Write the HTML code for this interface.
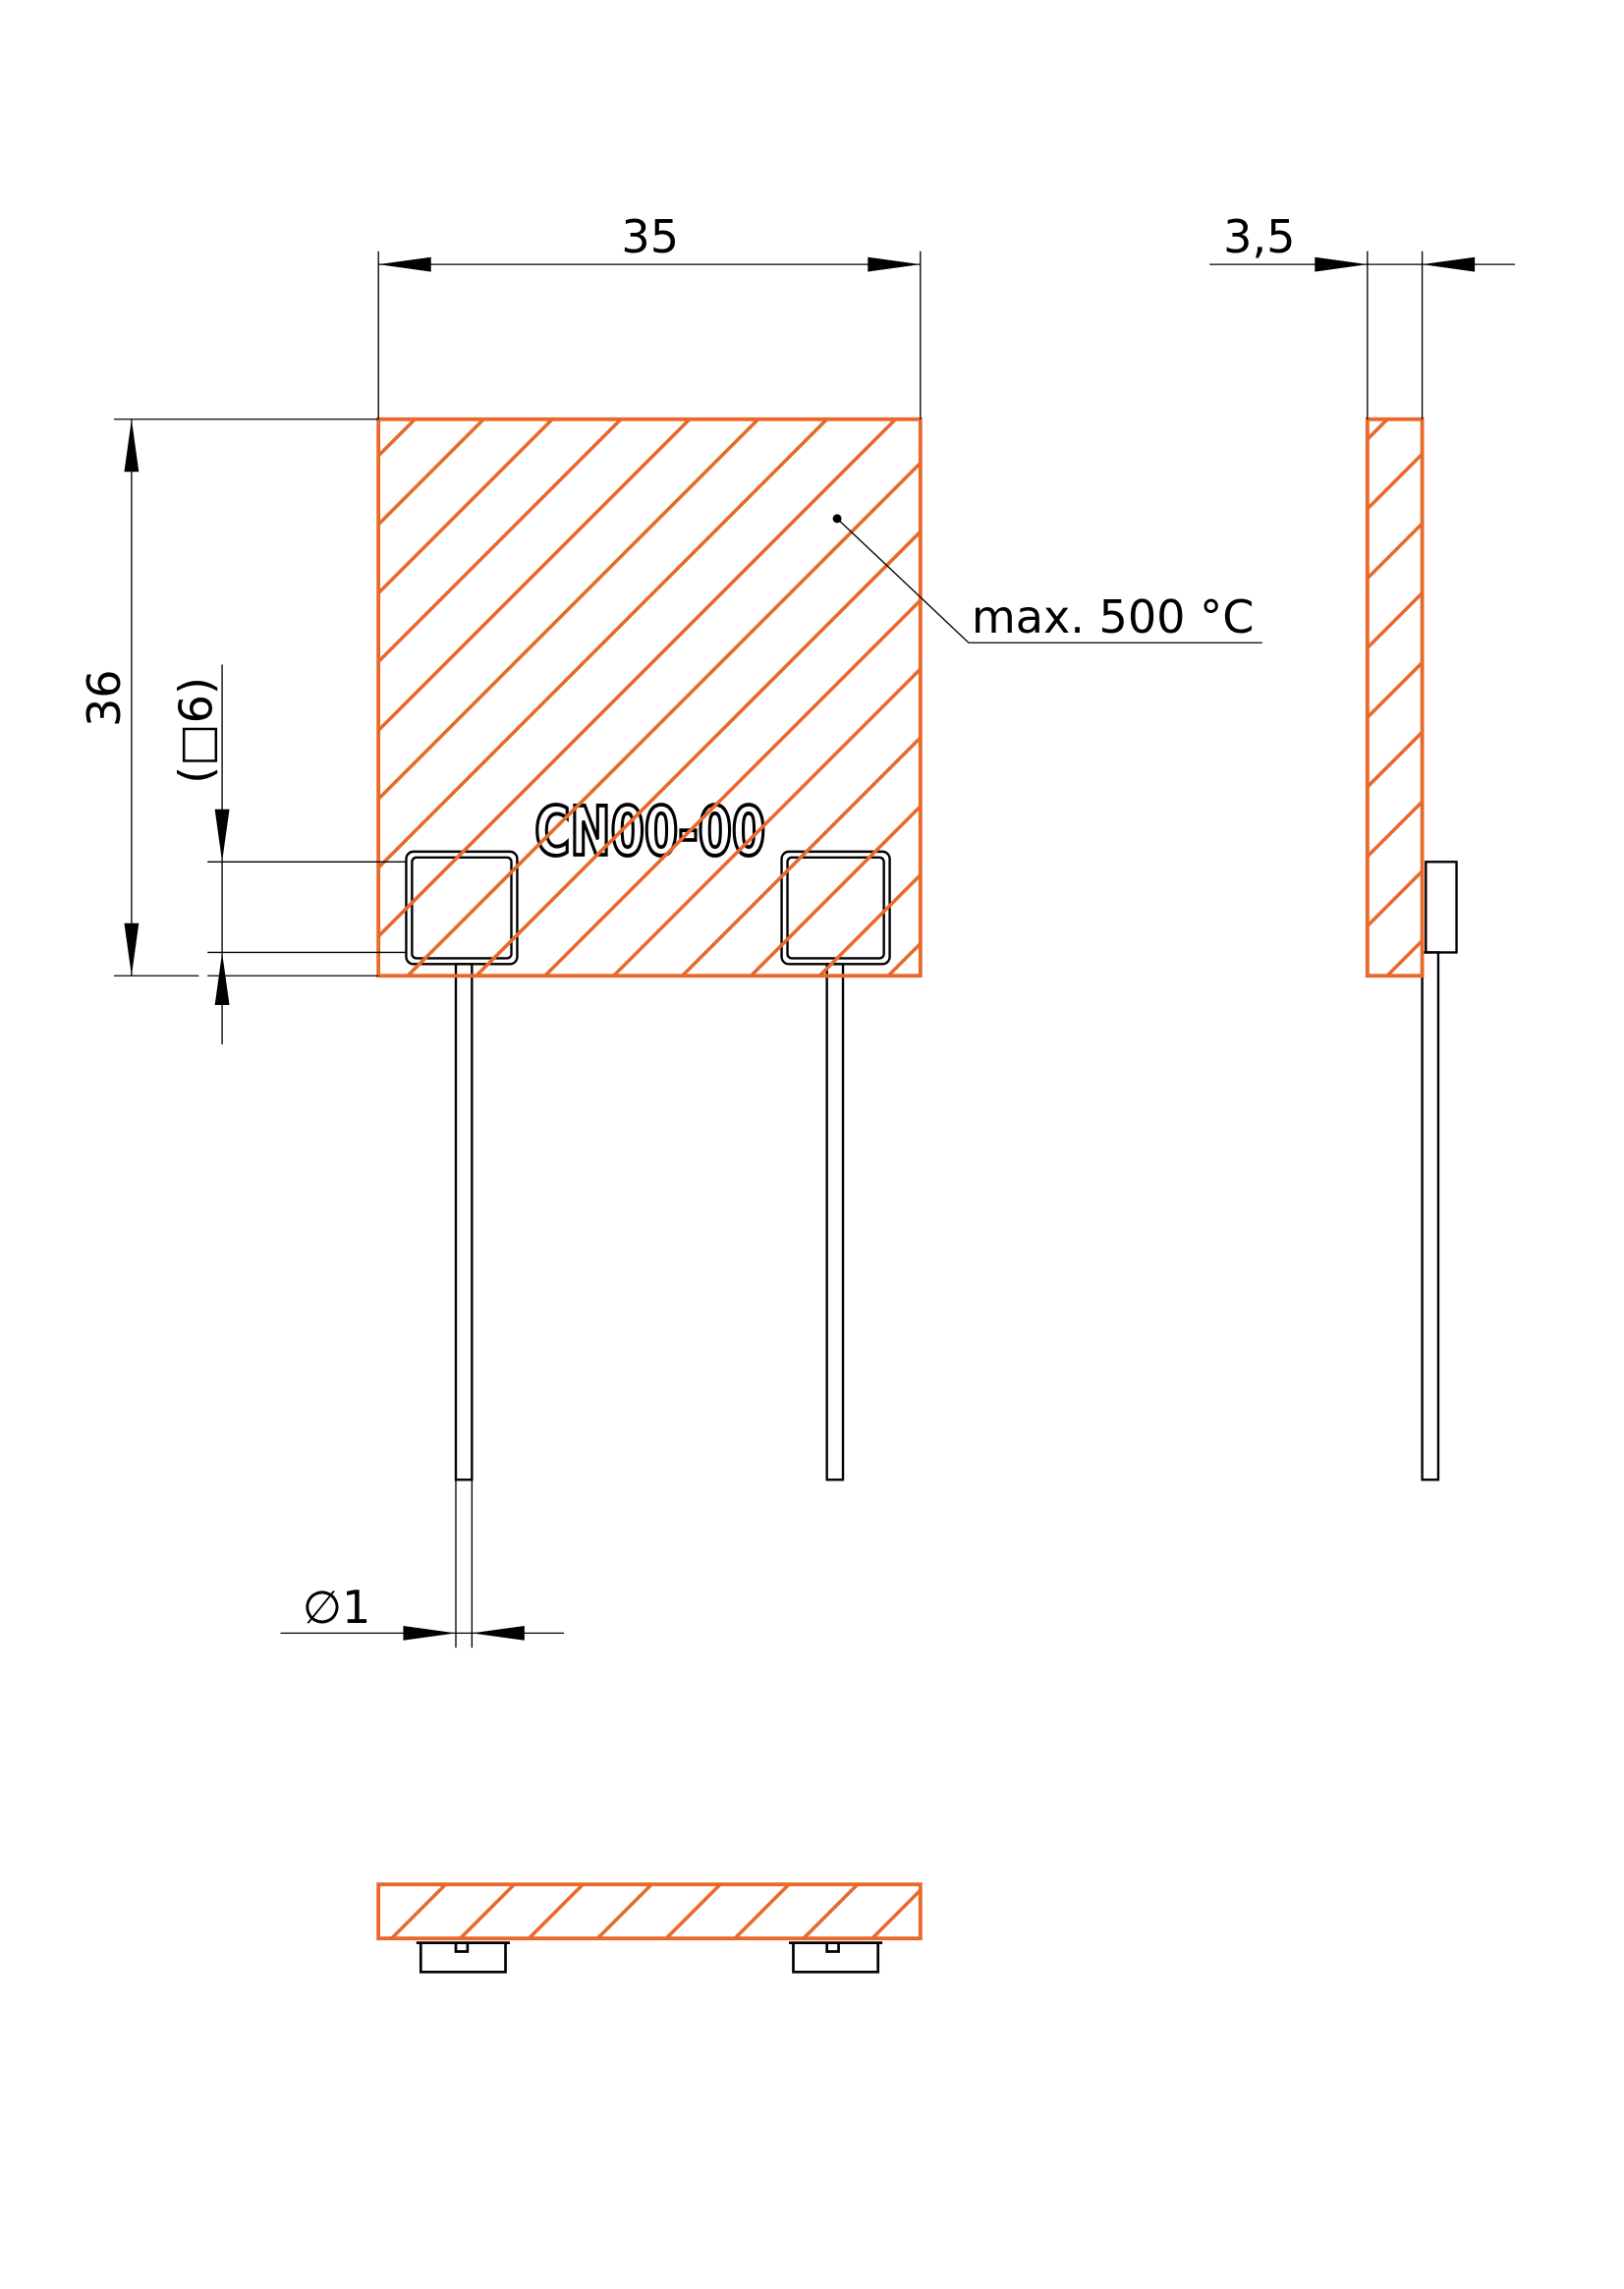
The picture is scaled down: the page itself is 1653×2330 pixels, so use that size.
<!DOCTYPE html>
<html><head><meta charset="utf-8"><style>html,body{margin:0;padding:0;background:#fff}svg{display:block}</style></head>
<body>
<svg width="1653" height="2330" viewBox="0 0 1111.6 1567" xmlns="http://www.w3.org/2000/svg" font-family="'DejaVu Sans','Liberation Sans',sans-serif">
<defs>
<clipPath id="cm"><rect x="259" y="287" width="371" height="381"/></clipPath>
<clipPath id="cs"><rect x="936" y="287" width="37.5" height="381"/></clipPath>
<clipPath id="cb"><rect x="259" y="1290" width="371" height="37"/></clipPath>
</defs>
<rect width="1111.6" height="1567" fill="#fff"/>

<text x="366" y="585" font-size="46" font-weight="bold" fill="#fff" stroke="#000" stroke-width="2.6" textLength="158" lengthAdjust="spacingAndGlyphs" font-family="'Liberation Sans Narrow','DejaVu Sans Condensed','Liberation Sans',sans-serif">CN00-00</text>

<g fill="none" stroke="#000" stroke-width="1.6">
<rect x="278" y="583" width="76" height="77" rx="5"/>
<rect x="282" y="587" width="68" height="69" rx="3"/>
<rect x="535" y="583" width="74" height="77" rx="5"/>
<rect x="539" y="587" width="66" height="69" rx="3"/>
<rect x="312" y="660" width="11" height="353"/>
<rect x="566" y="660" width="11" height="353"/>
<rect x="973.5" y="652" width="11" height="361"/>
<rect x="976" y="590" width="21" height="62"/>
</g>

<g stroke="#E8692B" stroke-width="2.4" clip-path="url(#cm)">
<path d="M-129 700L321 250 M-82 700L368 250 M-35 700L415 250 M12 700L462 250 M59 700L509 250 M106 700L556 250 M153 700L603 250 M200 700L650 250 M247 700L697 250 M294 700L744 250 M341 700L791 250 M388 700L838 250 M435 700L885 250 M482 700L932 250 M529 700L979 250 M576 700L1026 250 M623 700L1073 250"/>
</g>
<g stroke="#E8692B" stroke-width="2.4" clip-path="url(#cs)">
<path d="M536.7 700L986.7 250 M584.3 700L1034.3 250 M631.9 700L1081.9 250 M679.5 700L1129.5 250 M727.1 700L1177.1 250 M774.7 700L1224.7 250 M822.3 700L1272.3 250 M869.9 700L1319.9 250 M917.5 700L1367.5 250"/>
</g>
<g stroke="#E8692B" stroke-width="2.4" clip-path="url(#cb)">
<path d="M198 1350L268 1280 M245 1350L315 1280 M292 1350L362 1280 M339 1350L409 1280 M386 1350L456 1280 M433 1350L503 1280 M480 1350L550 1280 M527 1350L597 1280 M574 1350L644 1280 M621 1350L691 1280"/>
</g>
<g fill="none" stroke="#E8692B" stroke-width="2.6">
<rect x="259" y="287" width="371" height="381"/>
<rect x="936" y="287" width="37.5" height="381"/>
<rect x="259" y="1290" width="371" height="37"/>
</g>

<g fill="none" stroke="#000" stroke-width="1.8">
<path d="M285 1330 H349 M288 1330 V1350 H346 V1330"/>
<path d="M540 1330 H604 M543 1330 V1350 H601 V1330"/>
<path d="M312 1330 v6 h8 v-6 M566 1330 v6 h8 v-6"/>
</g>

<g stroke="#000" stroke-width="0.9" fill="none">
<path d="M259 172 V287 M630 172 V287 M259 181 H630"/>
<path d="M936 172 V287 M973.5 172 V287 M828 181 H1037"/>
<path d="M78 287 H259 M90 287 V668 M78 668 H136 M142 668 H259"/>
<path d="M142 590 H278 M142 652 H278 M152 455 V715"/>
<path d="M312 1013 V1128 M323 1013 V1128 M192 1118 H386"/>
<path d="M573 355 L663 440 H864"/>
</g>
<circle cx="573" cy="355" r="3" fill="#000"/>
<g fill="#000">
<path d="M259 181 l36 -5 v10z M630 181 l-36 -5 v10z"/>
<path d="M936 181 l-36 -5 v10z M973.5 181 l36 -5 v10z"/>
<path d="M90 287 l-5 36 h10z M90 668 l-5 -36 h10z"/>
<path d="M152 590 l-5 -36 h10z M152 652 l-5 36 h10z"/>
<path d="M312 1118 l-36 -5 v10z M323 1118 l36 -5 v10z"/>
</g>

<g fill="#000" font-size="31">
<text x="445" y="173" text-anchor="middle">35</text>
<text x="862" y="173" text-anchor="middle">3,5</text>
<text x="665" y="433">max. 500 °C</text>
<text transform="translate(82,478) rotate(-90)" text-anchor="middle">36</text>
<text transform="translate(145,500) rotate(-90)" text-anchor="middle">(□6)</text>
<text x="207" y="1111">∅1</text>
</g>
</svg>
</body></html>
